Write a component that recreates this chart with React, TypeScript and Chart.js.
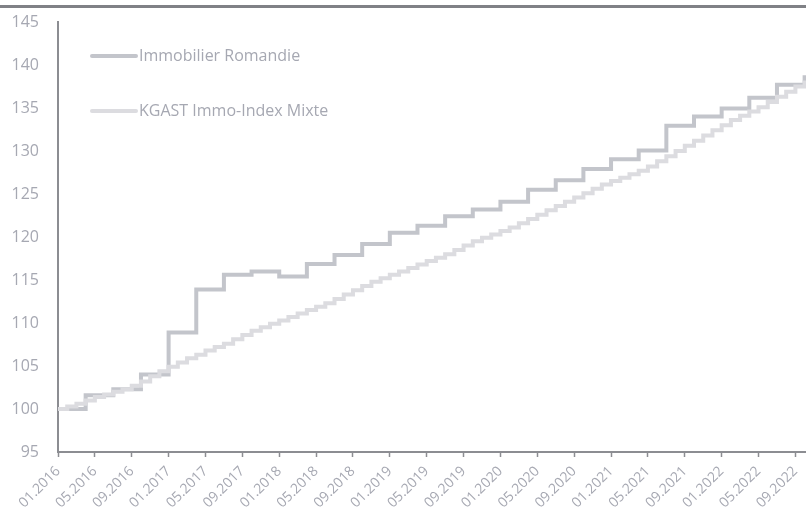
import React, { useEffect, useRef } from "react";
import { Chart, registerables } from "chart.js";

Chart.register(...registerables);

// Month index 0 = 01.2016
const tickLabels = [
  "01.2016", "05.2016", "09.2016", "01.2017", "05.2017", "09.2017",
  "01.2018", "05.2018", "09.2018", "01.2019", "05.2019", "09.2019",
  "01.2020", "05.2020", "09.2020", "01.2021", "05.2021", "09.2021",
  "01.2022", "05.2022", "09.2022",
];

const seriesNames = ["Immobilier Romandie", "KGAST Immo-Index Mixte"];

// Quarterly values (one every 3 months from 01.2016)
const romandieValues = [
  100.0, 101.6, 102.3, 104.0, 108.9, 113.9, 115.6, 116.0, 115.4, 116.85,
  117.9, 119.2, 120.5, 121.3, 122.4, 123.2, 124.1, 125.5, 126.6, 127.9,
  129.05, 130.05, 132.95, 134.0, 134.95, 136.2, 137.7, 138.8,
];

// Monthly values from 01.2016
const kgastValues = [
  100.0, 100.3, 100.6, 101.0, 101.4, 101.7, 102.0, 102.3, 102.7, 103.2,
  103.8, 104.4, 104.9, 105.4, 105.9, 106.3, 106.8, 107.2, 107.6, 108.1,
  108.6, 109.1, 109.5, 109.9, 110.3, 110.7, 111.1, 111.5, 111.9, 112.3,
  112.8, 113.3, 113.8, 114.3, 114.8, 115.2, 115.6, 116.0, 116.4, 116.8,
  117.2, 117.6, 118.0, 118.5, 119.0, 119.5, 119.9, 120.3, 120.7, 121.1,
  121.6, 122.1, 122.6, 123.1, 123.6, 124.1, 124.6, 125.1, 125.6, 126.1,
  126.5, 126.9, 127.3, 127.7, 128.2, 128.8, 129.4, 130.0, 130.6, 131.2,
  131.8, 132.4, 133.0, 133.6, 134.1, 134.6, 135.1, 135.7, 136.3, 136.9,
  137.5, 138.2,
];

const ROMANDIE_COLOR = "#c3c5cb";
const KGAST_COLOR = "#dcdce0";
const TEXT_COLOR = "#a6a8b2";
const AXIS_COLOR = "#8c8d92";

const decorPlugin = {
  id: "decor",
  beforeDraw(chart: any) {
    const ctx = chart.ctx;
    ctx.save();
    ctx.fillStyle = "#808186";
    ctx.fillRect(0, 5, chart.width, 3);
    ctx.restore();
  },
  afterDraw(chart: any) {
    const ctx = chart.ctx;
    const area = chart.chartArea;
    const rows = [56, 111];
    ctx.save();
    chart.data.datasets.forEach((ds: any) => {
      const y = rows[ds.legendRow];
      ctx.strokeStyle = ds.borderColor;
      ctx.lineWidth = 4;
      ctx.lineCap = "round";
      ctx.beginPath();
      ctx.moveTo(area.left + 34, y);
      ctx.lineTo(area.left + 78, y);
      ctx.stroke();
      ctx.fillStyle = TEXT_COLOR;
      ctx.font = "16px 'Open Sans', sans-serif";
      ctx.textBaseline = "middle";
      ctx.textAlign = "left";
      ctx.fillText(ds.label, area.left + 81, y);
    });
    ctx.restore();
  },
};

export default function App() {
  const ref = useRef<HTMLCanvasElement>(null);

  useEffect(() => {
    document.body.style.margin = "0";
    const canvas = ref.current;
    if (!canvas) return;
    const chart = new Chart(canvas, {
      type: "line",
      data: {
        datasets: [
          {
            label: seriesNames[0],
            legendRow: 0,
            data: romandieValues.map((v, i) => ({ x: i * 3, y: v })),
            borderColor: ROMANDIE_COLOR,
            backgroundColor: ROMANDIE_COLOR,
            borderWidth: 4,
            stepped: "before",
            pointRadius: 0,
            order: 2,
          } as any,
          {
            label: seriesNames[1],
            legendRow: 1,
            data: kgastValues.map((v, i) => ({ x: i, y: v })),
            borderColor: KGAST_COLOR,
            backgroundColor: KGAST_COLOR,
            borderWidth: 4,
            stepped: "before",
            pointRadius: 0,
            order: 1,
          } as any,
        ],
      },
      options: {
        animation: false,
        responsive: false,
        maintainAspectRatio: false,
        layout: { padding: { top: 22, right: 0, bottom: 0, left: 0 } },
        plugins: {
          legend: { display: false },
          tooltip: { enabled: false },
          title: { display: false },
        },
        scales: {
          x: {
            type: "linear",
            min: 0,
            max: 81.15,
            afterBuildTicks: (scale: any) => {
              scale.ticks = tickLabels.map((_, i) => ({ value: i * 4 }));
            },
            afterFit: (scale: any) => {
              scale.height = 60;
              scale.paddingLeft = 0;
              scale.paddingRight = 0;
            },
            grid: {
              display: true,
              drawOnChartArea: false,
              drawTicks: true,
              tickLength: 5,
              tickWidth: 1.5,
              tickColor: AXIS_COLOR,
            },
            border: { display: true, color: AXIS_COLOR, width: 2 },
            ticks: {
              autoSkip: false,
              maxRotation: 45,
              minRotation: 45,
              padding: 6,
              color: TEXT_COLOR,
              font: { size: 14, family: "'Open Sans', sans-serif" },
              callback: (value: any) => tickLabels[Math.round(Number(value) / 4)] ?? "",
            },
          },
          y: {
            min: 95,
            max: 145,
            afterFit: (scale: any) => {
              scale.width = 58;
              scale.paddingTop = 0;
              scale.paddingBottom = 0;
            },
            grid: { display: true, drawOnChartArea: false, drawTicks: false },
            border: { display: true, color: AXIS_COLOR, width: 2 },
            ticks: {
              stepSize: 5,
              padding: 19,
              color: TEXT_COLOR,
              font: { size: 16, family: "'Open Sans', sans-serif" },
            },
          },
        },
      } as any,
      plugins: [decorPlugin],
    });
    return () => chart.destroy();
  }, []);

  return (
    <div style={{ position: "relative", width: 806, height: 512 }}>
      <canvas ref={ref} width={806} height={512} style={{ display: "block" }} />
    </div>
  );
}
